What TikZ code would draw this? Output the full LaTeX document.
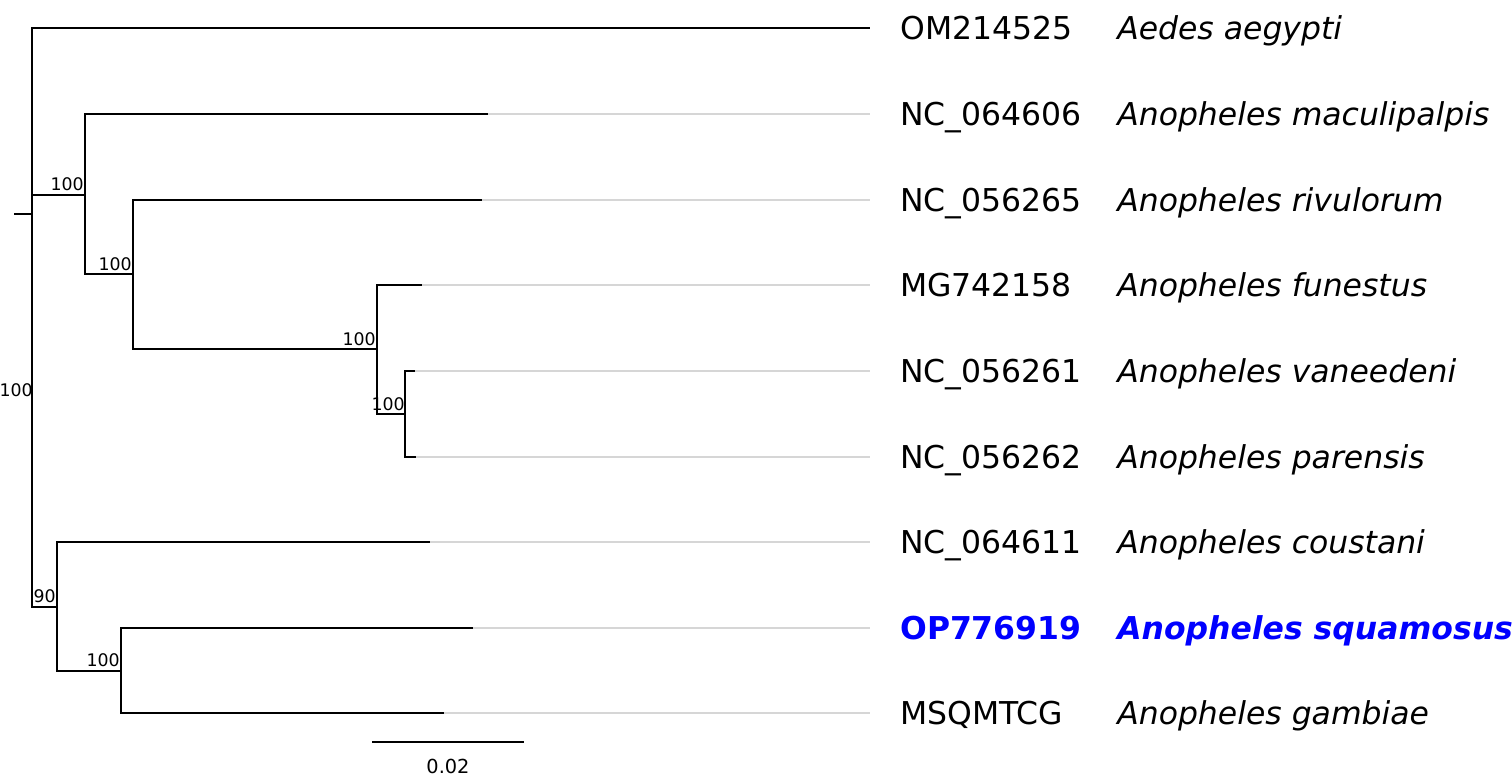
\documentclass[tikz,border=0pt]{standalone}
\usepackage{fontspec}
\setmainfont{DejaVu Sans}
\usetikzlibrary{positioning}
\definecolor{Guide}{HTML}{D6D6D6}
\definecolor{Query}{HTML}{0000FF}

\begin{document}
\begin{tikzpicture}[x=0.75pt, y=-0.75pt,
  branch/.style={line width=1.3pt},
  guide/.style={line width=1.3pt, Guide},
  acc/.style={anchor=base west, inner sep=0pt, font=\fontsize{23.6}{28}\selectfont},
  sp/.style={anchor=base west, inner sep=0pt, font=\fontsize{23.6}{28}\selectfont\itshape},
  boot/.style={anchor=base east, inner sep=0pt, font=\fontsize{13}{15}\selectfont}]
  \useasboundingbox (0,0) rectangle (1512,778);

  % tips
  \coordinate (tAeg) at (870,28);
  \coordinate (tMac) at (488,114);
  \coordinate (tRiv) at (482,200);
  \coordinate (tFun) at (422,285);
  \coordinate (tVan) at (415,371);
  \coordinate (tPar) at (416,457);
  \coordinate (tCou) at (430,542);
  \coordinate (tSqu) at (473,628);
  \coordinate (tGam) at (444,713);

  % inner nodes
  \coordinate (stub) at (14,214);
  \coordinate (root) at (32,214);
  \coordinate (nA)  at (85,195);
  \coordinate (nA1) at (133,274);
  \coordinate (nA2) at (377,349);
  \coordinate (nA3) at (405,414);
  \coordinate (nB)  at (57,607);
  \coordinate (nB1) at (121,671);

  % branches
  \draw[branch] (stub) -- (root);
  \draw[branch] (root) |- (tAeg);
  \draw[branch] (root) |- (nA);
  \draw[branch] (root) |- (nB);
  \draw[branch] (nA) |- (tMac);
  \draw[branch] (nA) |- (nA1);
  \draw[branch] (nA1) |- (tRiv);
  \draw[branch] (nA1) |- (nA2);
  \draw[branch] (nA2) |- (tFun);
  \draw[branch] (nA2) |- (nA3);
  \draw[branch] (nA3) |- (tVan);
  \draw[branch] (nA3) |- (tPar);
  \draw[branch] (nB) |- (tCou);
  \draw[branch] (nB) |- (nB1);
  \draw[branch] (nB1) |- (tSqu);
  \draw[branch] (nB1) |- (tGam);

  % guides to the labels
  \foreach \t/\y in {Mac/114, Riv/200, Fun/285, Van/371, Par/457, Cou/542, Squ/628, Gam/713} {
    \coordinate (g\t) at (870,\y);
    \draw[guide] (t\t) -- (g\t);
  }

  % tip labels
  \foreach \t/\y/\acc/\sp in {Aeg/28/OM214525/Aedes aegypti,
      Mac/114/NC\_064606/Anopheles maculipalpis,
      Riv/200/NC\_056265/Anopheles rivulorum,
      Fun/285/MG742158/Anopheles funestus,
      Van/371/NC\_056261/Anopheles vaneedeni,
      Par/457/NC\_056262/Anopheles parensis,
      Cou/542/NC\_064611/Anopheles coustani,
      Gam/713/MSQMTCG/Anopheles gambiae} {
    \node[acc] (a\t) at (900,\y+11.5) {\acc};
    \node[sp] (s\t) at (1117,\y+11.5) {\sp};
  }
  \node[acc, text=Query] (aSqu) at (900,639.5) {\bfseries OP776919};
  \node[sp, text=Query] (sSqu) at (1117,639.5) {\bfseries Anopheles squamosus};

  % bootstrap
  \node[boot] (bRoot) at (33,396) {100};
  \node[boot] (bA)  at (84,190) {100};
  \node[boot] (bA1) at (132,270) {100};
  \node[boot] (bA2) at (376,345) {100};
  \node[boot] (bA3) at (405,410) {100};
  \node[boot] (bB)  at (56,602) {90};
  \node[boot] (bB1) at (120,666) {100};

  % scale
  \coordinate (sbL) at (372,742);
  \coordinate (sbR) at (524,742);
  \draw[branch] (sbL) -- (sbR);
  \node[anchor=base, inner sep=0pt, font=\fontsize{14.5}{17}\selectfont] (sbLab) at (448,773) {0.02};
\end{tikzpicture}
\end{document}
